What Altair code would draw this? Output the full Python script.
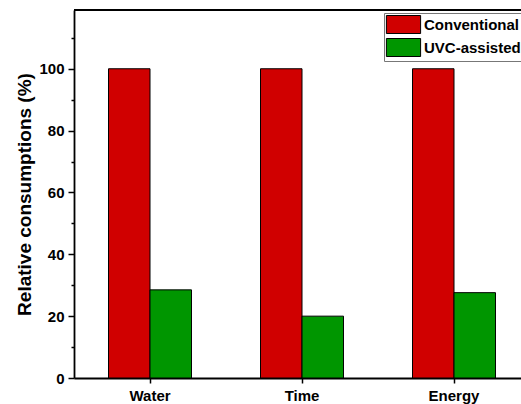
import altair as alt
import pandas as pd

categories = ["Water", "Time", "Energy"]
methods = ["Conventional", "UVC-assisted"]
conventional = [100, 100, 100]
uvc_assisted = [28.5, 20.0, 27.6]
major_ticks = [0, 20, 40, 60, 80, 100]
minor_ticks = [10, 30, 50, 70, 90, 110]
colors = ["#D00000", "#009600"]

rows = []
for c, a, b in zip(categories, conventional, uvc_assisted):
    rows.append({"category": c, "method": methods[0], "value": a})
    rows.append({"category": c, "method": methods[1], "value": b})
df = pd.DataFrame(rows)

FONT = "Liberation Sans"
Y_MAX = 119
yscale = alt.Scale(domain=[0, Y_MAX], nice=False)

bars = alt.Chart(df).mark_bar(stroke="black", strokeWidth=1).encode(
    x=alt.X(
        "category:N",
        sort=categories,
        scale=alt.Scale(range=[0, 456], paddingInner=0.454, paddingOuter=0.227),
        axis=alt.Axis(
            title=None,
            labelAngle=0,
            labelFont=FONT,
            labelFontSize=15,
            labelFontWeight="bold",
            labelColor="black",
            tickSize=5,
            tickColor="black",
            tickWidth=1.5,
            labelPadding=5,
            domainColor="black",
            domainWidth=1.8,
            grid=False,
        ),
    ),
    xOffset=alt.XOffset("method:N", sort=methods),
    y=alt.Y(
        "value:Q",
        scale=yscale,
        axis=alt.Axis(
            title="Relative consumptions (%)",
            values=major_ticks,
            tickSize=6,
            tickColor="black",
            tickWidth=1.5,
            labelPadding=4,
            labelFont=FONT,
            labelFontSize=15,
            labelFontWeight="bold",
            labelColor="black",
            titleFont=FONT,
            titleFontSize=19,
            titleFontWeight="bold",
            titleColor="black",
            titlePadding=4,
            domainColor="black",
            domainWidth=1.8,
            grid=False,
            orient="left",
        ),
    ),
    color=alt.Color(
        "method:N",
        sort=methods,
        scale=alt.Scale(domain=methods, range=colors),
        legend=alt.Legend(
            title=None,
            orient="none",
            legendX=310,
            legendY=3,
            symbolType="M-1.9,-1H1.9V1H-1.9Z",
            symbolSize=324,
            symbolStrokeColor="black",
            symbolStrokeWidth=1,
            symbolOffset=8,
            labelFont=FONT,
            labelFontSize=15,
            labelFontWeight="bold",
            labelColor="black",
            labelOffset=11,
            rowPadding=0,
            padding=2,
            strokeColor="#777777",
        ),
    ),
)

top_frame = alt.Chart(pd.DataFrame({"v": [Y_MAX]})).mark_rule(
    color="black", strokeWidth=1.8
).encode(
    y=alt.Y(
        "v:Q",
        scale=yscale,
        axis=alt.Axis(
            title=None,
            values=minor_ticks,
            labels=False,
            domain=False,
            grid=False,
            tickSize=3,
            tickColor="black",
            tickWidth=1.5,
            orient="left",
        ),
    )
)

chart = (
    alt.layer(bars, top_frame)
    .resolve_axis(y="independent")
    .properties(
        width=450,
        height=368,
        autosize=alt.AutoSizeParams(type="none"),
        padding={"left": 74, "top": 10, "right": -3, "bottom": 26},
        background="white",
    )
    .configure_view(strokeWidth=0, stroke="transparent")
)

chart.save("out.html", embed_options={"renderer": "svg", "actions": False})
